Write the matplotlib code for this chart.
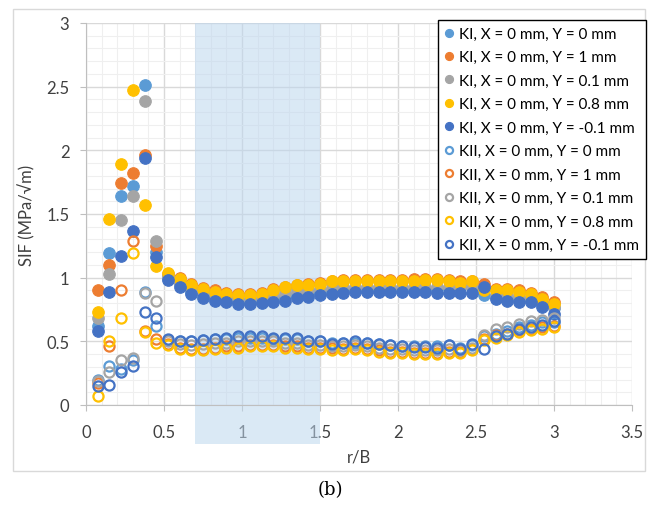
import matplotlib.pyplot as plt
from matplotlib.patches import Rectangle
from matplotlib.ticker import MultipleLocator

# posicao r/B dos pontos
r_b = [0.075, 0.15, 0.225, 0.3, 0.375, 0.45, 0.525, 0.6, 0.675, 0.75,
       0.825, 0.9, 0.975, 1.05, 1.125, 1.2, 1.275, 1.35, 1.425, 1.5,
       1.575, 1.65, 1.725, 1.8, 1.875, 1.95, 2.025, 2.1, 2.175, 2.25,
       2.325, 2.4, 2.475, 2.55, 2.625, 2.7, 2.775, 2.85, 2.925, 3.0]

# KI (modo I)
ki_y0 = [0.62, 1.19, 1.64, 1.72, 2.51, 1.20, 1.00, 0.95, 0.89, 0.86,
         0.83, 0.83, 0.81, 0.81, 0.82, 0.84, 0.85, 0.87, 0.88, 0.89,
         0.90, 0.91, 0.91, 0.91, 0.91, 0.91, 0.91, 0.91, 0.91, 0.91,
         0.92, 0.94, 0.92, 0.86, 0.85, 0.84, 0.83, 0.83, 0.79, 0.76]
ki_y1 = [0.90, 1.10, 1.74, 1.82, 1.96, 1.25, 1.03, 1.00, 0.95, 0.92,
         0.90, 0.88, 0.87, 0.87, 0.88, 0.91, 0.93, 0.94, 0.95, 0.96,
         0.97, 0.98, 0.98, 0.98, 0.98, 0.98, 0.98, 0.99, 0.99, 0.99,
         0.98, 0.97, 0.97, 0.95, 0.91, 0.91, 0.90, 0.88, 0.85, 0.81]
ki_y01 = [0.68, 1.03, 1.45, 1.64, 2.39, 1.29, 1.01, 0.96, 0.91, 0.88,
          0.85, 0.84, 0.83, 0.83, 0.84, 0.86, 0.88, 0.90, 0.90, 0.91,
          0.92, 0.93, 0.93, 0.93, 0.93, 0.93, 0.93, 0.93, 0.93, 0.93,
          0.93, 0.93, 0.93, 0.91, 0.86, 0.86, 0.85, 0.84, 0.80, 0.77]
ki_y08 = [0.73, 1.46, 1.89, 2.47, 1.57, 1.09, 1.04, 0.99, 0.94, 0.91,
          0.89, 0.87, 0.86, 0.86, 0.87, 0.90, 0.93, 0.94, 0.94, 0.95,
          0.97, 0.97, 0.97, 0.97, 0.97, 0.97, 0.97, 0.97, 0.98, 0.98,
          0.97, 0.96, 0.97, 0.90, 0.90, 0.90, 0.89, 0.87, 0.83, 0.79]
ki_ym01 = [0.58, 0.89, 1.17, 1.37, 1.94, 1.16, 0.98, 0.93, 0.87, 0.84,
           0.815, 0.81, 0.79, 0.79, 0.80, 0.81, 0.82, 0.84, 0.85, 0.86,
           0.87, 0.88, 0.89, 0.89, 0.89, 0.89, 0.89, 0.89, 0.89, 0.88,
           0.88, 0.88, 0.88, 0.93, 0.83, 0.82, 0.81, 0.81, 0.77, 0.715]

# KII (modo II)
kii_y0 = [0.20, 0.31, 0.28, 0.35, 0.89, 0.62, 0.51, 0.50, 0.50, 0.51,
          0.52, 0.52, 0.53, 0.53, 0.53, 0.52, 0.52, 0.52, 0.50, 0.50,
          0.49, 0.49, 0.49, 0.49, 0.48, 0.47, 0.46, 0.46, 0.46, 0.46,
          0.47, 0.45, 0.47, 0.54, 0.56, 0.58, 0.61, 0.63, 0.65, 0.65]
kii_y1 = [0.17, 0.46, 0.90, 1.29, 0.58, 0.52, 0.48, 0.45, 0.44, 0.44,
          0.45, 0.46, 0.46, 0.47, 0.47, 0.47, 0.46, 0.46, 0.45, 0.45,
          0.45, 0.44, 0.45, 0.44, 0.43, 0.42, 0.42, 0.41, 0.41, 0.41,
          0.42, 0.42, 0.44, 0.52, 0.55, 0.56, 0.59, 0.60, 0.61, 0.62]
kii_y01 = [0.19, 0.26, 0.35, 0.37, 0.88, 0.82, 0.50, 0.48, 0.47, 0.48,
           0.49, 0.49, 0.50, 0.50, 0.50, 0.50, 0.49, 0.49, 0.47, 0.47,
           0.46, 0.46, 0.47, 0.46, 0.45, 0.44, 0.44, 0.43, 0.43, 0.43,
           0.44, 0.43, 0.45, 0.55, 0.60, 0.61, 0.64, 0.66, 0.67, 0.68]
kii_y08 = [0.07, 0.50, 0.68, 1.19, 0.57, 0.49, 0.47, 0.44, 0.43, 0.43,
           0.44, 0.45, 0.45, 0.46, 0.46, 0.46, 0.45, 0.45, 0.44, 0.44,
           0.43, 0.43, 0.44, 0.43, 0.42, 0.41, 0.41, 0.40, 0.40, 0.40,
           0.41, 0.41, 0.43, 0.51, 0.53, 0.55, 0.57, 0.59, 0.60, 0.61]
kii_ym01 = [0.15, 0.16, 0.26, 0.31, 0.73, 0.68, 0.52, 0.50, 0.50, 0.51,
            0.52, 0.53, 0.54, 0.54, 0.54, 0.53, 0.53, 0.53, 0.50, 0.50,
            0.48, 0.49, 0.50, 0.49, 0.48, 0.47, 0.46, 0.455, 0.455, 0.45,
            0.47, 0.44, 0.48, 0.44, 0.54, 0.56, 0.60, 0.61, 0.63, 0.66]

rotulos_y = ["Y = 0 mm", "Y = 1 mm", "Y = 0.1 mm", "Y = 0.8 mm", "Y = -0.1 mm"]
cores = ["#5B9BD5", "#ED7D31", "#A5A5A5", "#FFC000", "#4472C4"]

series_ki = [ki_y0, ki_y1, ki_y01, ki_y08, ki_ym01]
series_kii = [kii_y0, kii_y1, kii_y01, kii_y08, kii_ym01]

plt.rcParams['font.family'] = ['Lato', 'DejaVu Sans']

fig = plt.figure(figsize=(6.56, 5.06), dpi=100)
ax = fig.add_axes([86 / 656, 1 - 406 / 506, 546 / 656, 382 / 506])

# moldura externa do grafico
fig.patches.append(Rectangle((13 / 656, 1 - 472 / 506), 632 / 656, 462 / 506,
                             transform=fig.transFigure, fill=False,
                             edgecolor="#D9D9D9", linewidth=1))

# faixa destacada entre 0.7 e 1.5
ax.axvspan(0.7, 1.5, ymin=-39 / 382, ymax=1, facecolor="#BDD7EE", alpha=0.55,
           edgecolor="none", clip_on=False, zorder=1)

ms = 8.3
for vals, cor, rot in zip(series_ki, cores, rotulos_y):
    ax.plot(r_b, vals, 'o', ms=ms, mfc=cor, mec=cor, mew=0.8,
            label="KI, X = 0 mm, " + rot, zorder=3)
for vals, cor, rot in zip(series_kii, cores, rotulos_y):
    ax.plot(r_b, vals, 'o', ms=ms - 1, mfc='none', mec=cor, mew=1.6,
            label="KII, X = 0 mm, " + rot, zorder=4)

ax.set_xlim(0, 3.5)
ax.set_ylim(0, 3)
ax.xaxis.set_major_locator(MultipleLocator(0.5))
ax.yaxis.set_major_locator(MultipleLocator(0.5))
ax.xaxis.set_minor_locator(MultipleLocator(0.1))
ax.yaxis.set_minor_locator(MultipleLocator(0.1))
ax.set_xticks([0, 0.5, 1, 1.5, 2, 2.5, 3, 3.5])
ax.set_xticklabels(["0", "0.5", "1", "1.5", "2", "2.5", "3", "3.5"])
ax.set_yticks([0, 0.5, 1, 1.5, 2, 2.5, 3])
ax.set_yticklabels(["0", "0.5", "1", "1.5", "2", "2.5", "3"])

# grade principal e secundaria
ax.grid(True, which='major', color="#D9D9D9", linewidth=1, zorder=0)
ax.grid(True, which='minor', color="#EFEFEF", linewidth=0.8, zorder=0)
ax.set_axisbelow(True)

for lado in ['top', 'right']:
    ax.spines[lado].set_visible(False)
for lado in ['left', 'bottom']:
    ax.spines[lado].set_color("#BFBFBF")
ax.tick_params(which='major', length=4, color="#BFBFBF", labelsize=12,
               labelcolor="#404040")
ax.tick_params(axis='x', pad=10)
ax.tick_params(axis='y', pad=8)
ax.tick_params(which='minor', length=0)

ax.set_xlabel("r/B", fontsize=12, color="#404040", labelpad=6)
ax.set_ylabel("SIF (MPa/\u221am)", fontsize=12, color="#404040", labelpad=8)

leg = fig.legend(loc='upper right', bbox_to_anchor=(646 / 656, 1 - 21 / 506),
                 fontsize=11, frameon=True, fancybox=False, edgecolor="black",
                 framealpha=1, markerscale=0.7, handlelength=0.6,
                 handletextpad=0.35, labelspacing=0.62, borderpad=0.45,
                 borderaxespad=0)
leg.get_frame().set_linewidth(1)

fig.text(330 / 656, 1 - 490 / 506, "(b)", ha='center', va='center',
         fontsize=13, family='DejaVu Serif')

fig.savefig("out.png", dpi=100)
